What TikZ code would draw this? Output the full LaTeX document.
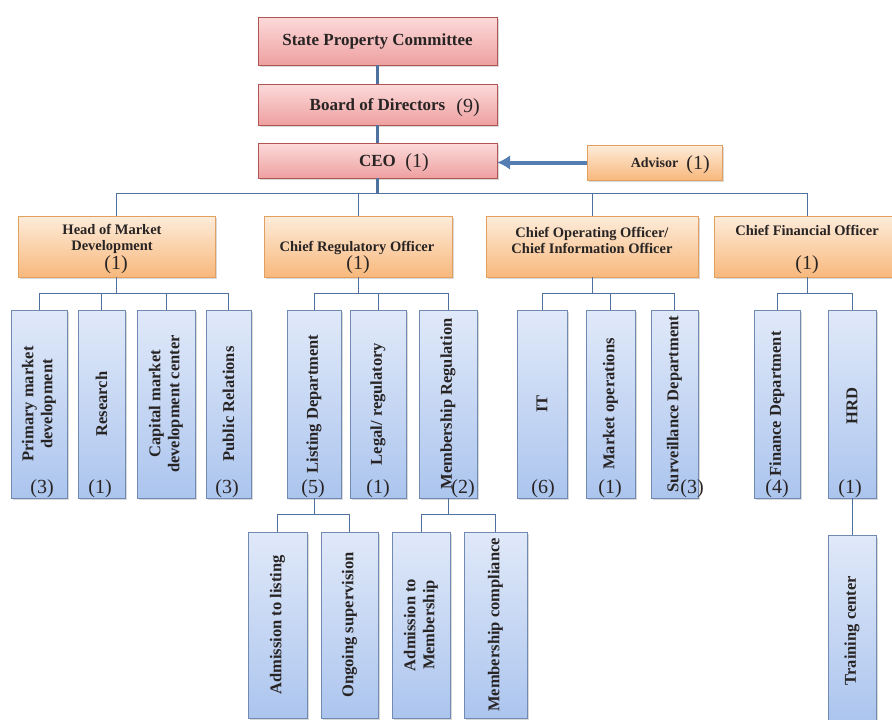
\documentclass[tikz,border=0pt]{standalone}
\usepackage{fontspec}
\setmainfont{Liberation Serif}
\usetikzlibrary{arrows.meta,positioning,shadows}
\definecolor{LinkColor}{RGB}{79,113,160}
\definecolor{ArrowColor}{RGB}{84,125,180}
\definecolor{PinkTop}{RGB}{252,218,218}
\definecolor{PinkBottom}{RGB}{238,160,160}
\definecolor{PinkLine}{RGB}{176,84,84}
\definecolor{PeachTop}{RGB}{253,236,218}
\definecolor{PeachBottom}{RGB}{248,184,124}
\definecolor{PeachLine}{RGB}{226,160,96}
\definecolor{BlueTop}{RGB}{224,233,249}
\definecolor{BlueBottom}{RGB}{172,197,238}
\definecolor{BlueLine}{RGB}{112,138,178}
\definecolor{InkColor}{RGB}{40,36,36}
\tikzset{
  boxshadow/.style={drop shadow={opacity=0.3, shadow xshift=1.5pt, shadow yshift=-2pt}},
  topbox/.style={draw=PinkLine, top color=PinkTop, bottom color=PinkBottom, boxshadow,
    minimum width=239, inner sep=0pt, text=InkColor, font=\fontsize{17}{20}\selectfont\bfseries},
  sidebox/.style={draw=PeachLine, top color=PeachTop, bottom color=PeachBottom, boxshadow,
    minimum width=135, minimum height=35, inner sep=0pt, text=InkColor,
    font=\fontsize{14}{17}\selectfont\bfseries},
  headbox/.style={draw=PeachLine, top color=PeachTop, bottom color=PeachBottom, boxshadow,
    minimum height=61, inner sep=0pt},
  headtext/.style={align=center, inner sep=0pt, text=InkColor, font=\fontsize{14.5}{16}\selectfont\bfseries},
  deptbox/.style={draw=BlueLine, top color=BlueTop, bottom color=BlueBottom, boxshadow,
    minimum height=188, inner sep=0pt},
  subbox/.style={deptbox, minimum height=186},
  depttext/.style={rotate=90, align=center, inner sep=0pt, text=InkColor,
    font=\fontsize{16.5}{19}\selectfont\bfseries},
  numtag/.style={inner sep=0pt, text=InkColor, font=\fontsize{20}{22}\selectfont},
  link/.style={draw=LinkColor, line width=0.9pt},
  trunk/.style={draw=LinkColor, line width=2.5pt},
}
\begin{document}
\begin{tikzpicture}[x=1pt, y=-1pt]
  \useasboundingbox (0,0) rectangle (892,720);
  % top of the chart
  \node[topbox, minimum height=48] (spc) at (377.5,41) {State Property Committee};
  \node[topbox, minimum height=41] (board) at (377.5,104.5) {Board of Directors};
  \node[topbox, minimum height=35] (ceo) at (377.5,160.5) {CEO};
  \node[sidebox] (adv) at (654.5,162.5) {Advisor};
  \node[numtag] (board-n) at (468,108) {(9)};
  \node[numtag] (ceo-n) at (417,163) {(1)};
  \node[numtag] (adv-n) at (698,165) {(1)};
  \draw[trunk] (spc) -- (board);
  \draw[trunk] (board) -- (ceo);
  \draw[trunk] (ceo.south) -- ++(0,15) coordinate (ceobus);
  \draw[-{Latex[length=13pt,width=15pt]}, draw=ArrowColor, line width=4pt] (adv.west) -- (adv.west -| ceo.east);
  % chiefs
  \foreach \nm/\cx/\bw in {hmd/116.5/197, cro/358/188, coo/592/212, cfo/807/186}{
    \node[headbox, minimum width=\bw] (\nm) at (\cx,246.5) {};
    \draw[link] (ceobus) -| (\nm.north);
  }
  \node[headtext] (hmd-t) at (112,239) {Head of Market\\Development};
  \node[headtext] (cro-t) at (357,248) {Chief Regulatory Officer};
  \node[headtext] (coo-t) at (592,240) {Chief Operating Officer/\\Chief Information Officer};
  \node[headtext] (cfo-t) at (807,230) {Chief Financial Officer};
  \foreach \nm/\cx in {hmd/116, cro/358, cfo/807}
    \node[numtag] (\nm-n) at (\cx,265) {(1)};
  % departments
  \foreach \nm/\cx/\bw/\txt in {
    prim/39/56/{Primary market\\development},
    res/101.5/47/{Research},
    cap/166/58/{Capital market\\development center},
    pr/228.5/45/{Public Relations},
    list/314/54/{Listing Department},
    legal/378/56/{Legal/ regulatory},
    memb/448/58/{Membership Regulation},
    it/542/50/{IT},
    mops/610.5/49/{Market operations},
    surv/674.5/47/{Surveillance Department},
    fin/777/46/{Finance Department},
    hrd/852/48/{HRD}
  }{
    \node[deptbox, minimum width=\bw] (\nm) at (\cx,404) {};
    \node[depttext] (\nm-t) at (\nm.center) {\txt};
  }
  \foreach \nm/\cx/\cnt in {prim/42/3, res/100/1, pr/227/3, list/313/5, legal/378/1,
      memb/463/2, it/543/6, mops/610/1, surv/692/3, fin/777/4, hrd/850/1}
    \node[numtag] (\nm-n) at (\cx,489) {(\cnt)};
  \foreach \up/\dn in {hmd/prim, hmd/res, hmd/cap, hmd/pr, cro/list, cro/legal, cro/memb,
      coo/it, coo/mops, coo/surv, cfo/fin, cfo/hrd}
    \draw[link] (\up.south) -- ++(0,16) -| (\dn.north);
  % sections
  \foreach \nm/\cx/\cy/\bw/\txt in {
    admlist/277.5/625/59/{Admission to listing},
    ongo/349.5/625/57/{Ongoing supervision},
    admmem/421/625/58/{Admission to\\Membership},
    mcomp/495.5/625/63/{Membership compliance},
    train/852/628.5/48/{Training center}
  }{
    \node[subbox, minimum width=\bw] (\nm) at (\cx,\cy) {};
    \node[depttext] (\nm-t) at (\nm.center) {\txt};
  }
  \foreach \up/\dn in {list/admlist, list/ongo, memb/admmem, memb/mcomp}
    \draw[link] (\up.south) -- ++(0,16) -| (\dn.north);
  \draw[link] (hrd) -- (train);
\end{tikzpicture}
\end{document}
